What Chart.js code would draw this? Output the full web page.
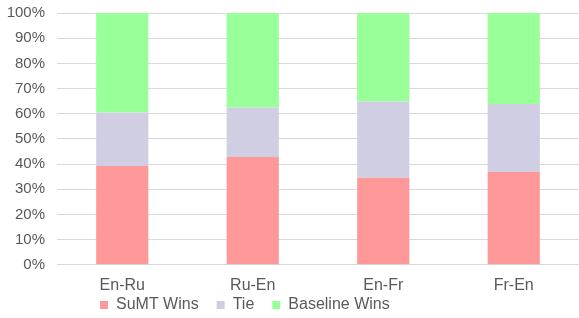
<!DOCTYPE html>
<html>
<head>
<meta charset="utf-8">
<script src="https://cdn.jsdelivr.net/npm/chart.js@4"></script>
<style>
  body { margin: 0; background: #fff; }
  #wrap { width: 579px; height: 318px; }
</style>
</head>
<body>
<div id="wrap"><canvas id="myChart" width="579" height="318"></canvas></div>
<script>
// pair names along the x axis
let pairs = ["En-Ru", "Ru-En", "En-Fr", "Fr-En"];

// share of judgements, percent
let sumtWins = [39.2, 42.8, 34.6, 36.9];
let ties = [21.3, 19.7, 30.3, 27.0];
let baselineWins = [39.5, 37.5, 35.1, 36.1];

let seriesNames = ["SuMT Wins", "Tie", "Baseline Wins"];
let barColors = ["#FF9999", "#D0CEE2", "#99FF99"];

// move the legend to where it sits in the reference
let legendShift = {
  id: "legendShift",
  afterLayout(chart) {
    let lg = chart.legend;
    lg.left = 82;
    lg.right = 560;
    lg.top = 279;
    lg.bottom = 318;
  }
};

new Chart("myChart", {
  type: "bar",
  data: {
    labels: pairs,
    datasets: [
      { label: seriesNames[0], data: sumtWins, backgroundColor: barColors[0] },
      { label: seriesNames[1], data: ties, backgroundColor: barColors[1] },
      { label: seriesNames[2], data: baselineWins, backgroundColor: barColors[2] }
    ]
  },
  options: {
    responsive: false,
    animation: false,
    layout: { padding: { top: 13, right: 0, left: 0, bottom: -24 } },
    datasets: {
      bar: { categoryPercentage: 1.0, barPercentage: 0.4 }
    },
    scales: {
      x: {
        stacked: true,
        grid: { display: false },
        border: { color: "#d9d9d9", width: 1 },
        ticks: {
          color: "#595959",
          padding: 3,
          font: { family: "Arial, 'Liberation Sans'", size: 16 }
        }
      },
      y: {
        stacked: true,
        min: 0,
        max: 100,
        afterFit: function(axis) {
          axis.width = 57;
          axis.paddingTop = 0;
        },
        grid: { color: "#d9d9d9", drawTicks: false },
        border: { display: false },
        ticks: {
          stepSize: 10,
          padding: 12,
          color: "#595959",
          font: { family: "Arial, 'Liberation Sans'", size: 15 },
          callback: function(v) { return v + "%"; }
        }
      }
    },
    plugins: {
      legend: {
        position: "bottom",
        align: "start",
        labels: {
          boxWidth: 8,
          boxHeight: 8,
          padding: 18,
          color: "#595959",
          font: { family: "Arial, 'Liberation Sans'", size: 16 }
        }
      },
      tooltip: { enabled: false }
    }
  },
  plugins: [legendShift]
});
</script>
</body>
</html>
